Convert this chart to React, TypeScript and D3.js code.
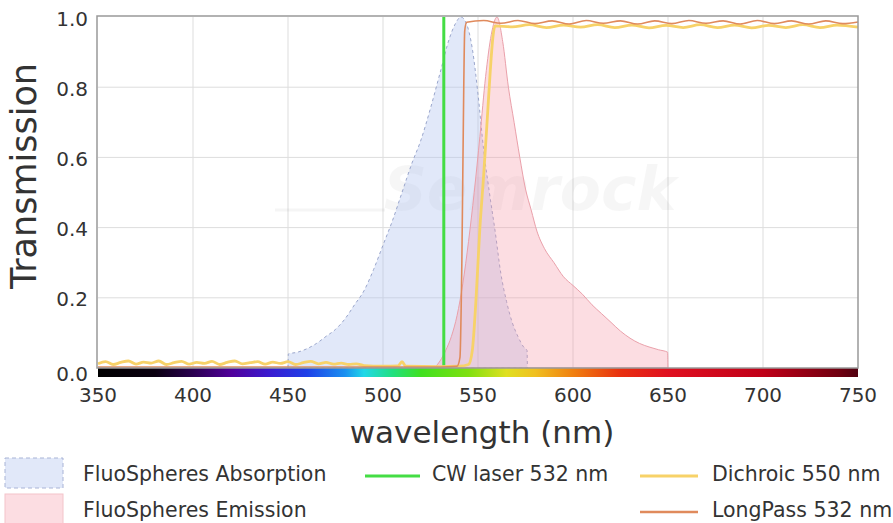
import React from "react";
import * as d3 from "d3";

// wavelength (nm), transmission
const absorption: [number, number][] = [
  [450, 0], [450.2, 0.04], [455, 0.045], [460, 0.055], [465, 0.07], [470, 0.09],
  [475, 0.11], [480, 0.14], [485, 0.18], [490, 0.22], [495, 0.28], [500, 0.35],
  [505, 0.42], [510, 0.5], [515, 0.58], [520, 0.65], [525, 0.74], [530, 0.84],
  [535, 0.94], [538, 0.98], [541, 1.0], [544, 0.98], [547, 0.91], [550, 0.78],
  [553, 0.62], [556, 0.5], [559, 0.39], [562, 0.27], [565, 0.19], [568, 0.13],
  [571, 0.09], [574, 0.06], [575.8, 0.05], [576, 0],
];

const emission: [number, number][] = [
  [527, 0], [530, 0.02], [533, 0.05], [536, 0.09], [539, 0.15], [542, 0.24],
  [545, 0.36], [548, 0.5], [551, 0.66], [554, 0.83], [557, 0.95], [560, 1.0],
  [563, 0.93], [566, 0.8], [569, 0.7], [572, 0.6], [575, 0.51], [578, 0.45],
  [581, 0.39], [585, 0.34], [590, 0.3], [595, 0.26], [600, 0.235], [605, 0.21],
  [610, 0.18], [615, 0.155], [620, 0.13], [625, 0.105], [630, 0.085], [635, 0.07],
  [640, 0.06], [645, 0.052], [649.8, 0.045], [650, 0],
];

const laserNm = 532;

const dichroic: [number, number][] = [
  [350, 0.012], [354, 0.018], [358, 0.01], [362, 0.016], [366, 0.02], [370, 0.011],
  [374, 0.017], [378, 0.014], [382, 0.02], [386, 0.01], [390, 0.015], [394, 0.019],
  [398, 0.011], [402, 0.016], [406, 0.013], [410, 0.019], [414, 0.01], [418, 0.016],
  [422, 0.02], [426, 0.012], [430, 0.015], [434, 0.018], [438, 0.011], [442, 0.017],
  [446, 0.013], [450, 0.018], [454, 0.01], [458, 0.015], [462, 0.019], [466, 0.012],
  [470, 0.016], [474, 0.011], [478, 0.014], [482, 0.01], [486, 0.012], [490, 0.007],
  [500, 0.005], [508, 0.006], [510, 0.018], [512, 0.005], [530, 0.004], [540, 0.005],
  [545, 0.01], [547, 0.05], [549, 0.2], [551, 0.4], [553, 0.55], [555, 0.72], [556.5, 0.85],
  [558, 0.95], [559, 0.975], [568, 0.972], [577, 0.978], [586, 0.97], [595, 0.977],
  [604, 0.971], [613, 0.978], [622, 0.97], [631, 0.977], [640, 0.969], [649, 0.976],
  [658, 0.97], [667, 0.978], [676, 0.97], [685, 0.977], [694, 0.969], [703, 0.976],
  [712, 0.97], [721, 0.978], [730, 0.97], [739, 0.977], [750, 0.971],
];

const longPass: [number, number][] = [
  [350, 0.003], [530, 0.003], [539, 0.005], [540.5, 0.03], [541.5, 0.3], [542.5, 0.8],
  [543, 0.96], [544, 0.985], [553, 0.99], [562, 0.982], [571, 0.99], [580, 0.981],
  [589, 0.989], [598, 0.98], [607, 0.99], [616, 0.982], [625, 0.989], [634, 0.98],
  [643, 0.989], [652, 0.981], [661, 0.99], [670, 0.982], [679, 0.989], [688, 0.98],
  [697, 0.99], [706, 0.981], [715, 0.989], [724, 0.98], [733, 0.989], [742, 0.981],
  [750, 0.986],
];

const spectrumStops: [number, string][] = [
  [350, "#000000"], [380, "#0a0010"], [400, "#2a0050"], [420, "#50009a"],
  [440, "#3a1ad0"], [460, "#1e40e8"], [480, "#1a90f0"], [490, "#20d8e8"],
  [505, "#20e080"], [520, "#40e020"], [545, "#80e010"], [565, "#e0e020"],
  [580, "#f0c020"], [600, "#f08010"], [625, "#e83010"], [650, "#e01020"],
  [700, "#c00018"], [740, "#700010"], [750, "#500010"],
];

const xTicks = [350, 400, 450, 500, 550, 600, 650, 700, 750];
const yTicks = [0, 0.2, 0.4, 0.6, 0.8, 1.0];

const FONT = "DejaVu Sans, Verdana, sans-serif";
const TXT = "#333";

export default function App() {
  const x = d3.scaleLinear().domain([350, 750]).range([98, 858]);
  const y = d3.scaleLinear().domain([0, 1]).range([368, 17]);

  const area = d3
    .area<[number, number]>()
    .x((d) => x(d[0]))
    .y0(y(0))
    .y1((d) => y(d[1]))
    .curve(d3.curveMonotoneX);
  const topLine = d3
    .line<[number, number]>()
    .x((d) => x(d[0]))
    .y((d) => y(d[1]))
    .curve(d3.curveMonotoneX);

  const [x0, x1] = x.range();
  const [yb, yt] = y.range();

  return (
    <svg
      width={893}
      height={523}
      style={{ position: "absolute", left: 0, top: 0, background: "#fff" }}
      fontFamily={FONT}
    >
      <defs>
        <linearGradient id="spec" x1="0" x2="1" y1="0" y2="0">
          {spectrumStops.map(([nm, c]) => (
            <stop key={nm} offset={(nm - 350) / 400} stopColor={c} />
          ))}
        </linearGradient>
      </defs>

      {/* grid */}
      {xTicks.slice(1, -1).map((t) => (
        <line key={"gx" + t} x1={x(t)} x2={x(t)} y1={yt} y2={yb} stroke="#ddd" strokeWidth={1} />
      ))}
      {yTicks.slice(1, -1).map((t) => (
        <line key={"gy" + t} x1={x0} x2={x1} y1={y(t)} y2={y(t)} stroke="#ddd" strokeWidth={1} />
      ))}

      {/* watermark */}
      <line x1={275} x2={385} y1={210} y2={210} stroke="#000" strokeOpacity={0.04} strokeWidth={3} />
      <text x={530} y={210} textAnchor="middle" fontSize={60} fontStyle="italic" fontWeight="bold" fill="#000" fillOpacity={0.035}>
        Semrock
      </text>

      <path d={area(absorption) || ""} fill="rgb(175,195,238)" fillOpacity={0.38} stroke="#9aa6cc" strokeDasharray="3,3" strokeWidth={1} />
      <path d={area(emission) || ""} fill="rgb(245,150,165)" fillOpacity={0.32} stroke="#eaa0aa" strokeWidth={1} />

      <line x1={x(laserNm)} x2={x(laserNm)} y1={y(0)} y2={y(1)} stroke="#44dd44" strokeWidth={3} />
      <path d={topLine(dichroic) || ""} fill="none" stroke="#f7d268" strokeWidth={2.8} />
      <path d={topLine(longPass) || ""} fill="none" stroke="#e08a5c" strokeWidth={1.6} />

      {/* spectrum bar */}
      <rect x={x0} y={yb} width={x1 - x0} height={9} fill="url(#spec)" />

      {/* frame */}
      <rect x={x0 - 1} y={yt - 1} width={x1 - x0 + 1} height={yb - yt + 1} fill="none" stroke="#999" strokeWidth={1.5} />

      {/* axes labels */}
      {yTicks.map((t) => (
        <text key={"ty" + t} x={88} y={y(t) + (t === 0 ? 7 : 3)} textAnchor="end" dominantBaseline="middle" fontSize={20} fill={TXT}>
          {t.toFixed(1)}
        </text>
      ))}
      {xTicks.map((t) => (
        <text key={"tx" + t} x={x(t)} y={396} textAnchor="middle" dominantBaseline="middle" fontSize={20} fill={TXT}>
          {t}
        </text>
      ))}
      <text x={482} y={434} textAnchor="middle" dominantBaseline="middle" fontSize={31} fill={TXT}>
        wavelength (nm)
      </text>
      <text transform="translate(26,176) rotate(-90)" textAnchor="middle" dominantBaseline="middle" fontSize={35} fill={TXT}>
        Transmission
      </text>

      {/* legend */}
      <rect x={5} y={458} width={58} height={30} fill="rgb(175,195,238)" fillOpacity={0.38} stroke="#a9b4d6" strokeDasharray="4,3" />
      <text x={83} y={475} dominantBaseline="middle" fontSize={20.5} fill={TXT}>FluoSpheres Absorption</text>
      <rect x={5} y={494} width={58} height={32} fill="rgb(245,150,165)" fillOpacity={0.32} stroke="#f3c4ca" />
      <text x={83} y={511} dominantBaseline="middle" fontSize={20.5} fill={TXT}>FluoSpheres Emission</text>

      <line x1={365} x2={420} y1={476} y2={476} stroke="#44dd44" strokeWidth={3} />
      <text x={432} y={475} dominantBaseline="middle" fontSize={20.5} fill={TXT}>CW laser 532 nm</text>
      <line x1={640} x2={698} y1={476} y2={476} stroke="#f7d268" strokeWidth={2.8} />
      <text x={712} y={475} dominantBaseline="middle" fontSize={20.5} fill={TXT}>Dichroic 550 nm</text>
      <line x1={640} x2={698} y1={512} y2={512} stroke="#e08a5c" strokeWidth={2.5} />
      <text x={712} y={511} dominantBaseline="middle" fontSize={20.5} fill={TXT}>LongPass 532 nm</text>
    </svg>
  );
}
